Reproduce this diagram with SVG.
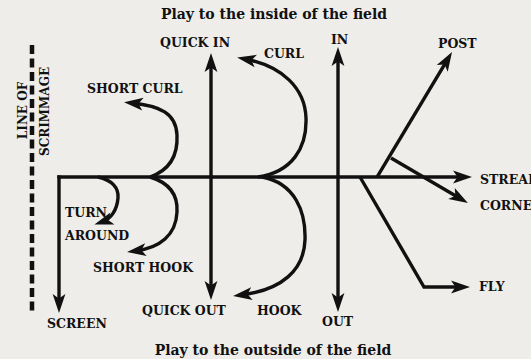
<svg xmlns="http://www.w3.org/2000/svg" width="531" height="359" viewBox="0 0 531 359">
  <style>
    .lbl { font-family: "DejaVu Serif", "Liberation Serif", serif; font-weight: bold; font-size: 12.5px; fill: #111; }
    .ttl { font-family: "DejaVu Serif", "Liberation Serif", serif; font-weight: bold; font-size: 14px; fill: #111; }
    .los { font-family: "DejaVu Serif", "Liberation Serif", serif; font-weight: bold; font-size: 12px; fill: #111; }
    .route { fill: none; stroke: #111; stroke-width: 3.4; marker-end: url(#ah); }
    .scrim { fill: none; stroke: #111; stroke-width: 4.5; stroke-dasharray: 9 4.5; }
  </style>
  <defs>
    <marker id="ah" markerUnits="userSpaceOnUse" markerWidth="24" markerHeight="18" refX="12" refY="8" orient="auto" overflow="visible">
      <path d="M20,8 L1,1.6 L5.5,8 L1,14.4 Z" fill="#111"/>
    </marker>
  </defs>
  <rect x="0" y="0" width="531" height="359" fill="#efede9"/>

  <g id="title-inside"><text class="ttl" x="274" y="19" text-anchor="middle">Play to the inside of the field</text></g>
  <g id="title-outside"><text class="ttl" x="273" y="355" text-anchor="middle">Play to the outside of the field</text></g>

  <g id="line-of-scrimmage">
    <line class="scrim" x1="32" y1="45" x2="32" y2="311"/>
    <text class="los" transform="translate(27,110.5) rotate(-90)" text-anchor="middle">LINE OF</text>
    <text class="los" transform="translate(49,111.5) rotate(-90)" text-anchor="middle">SCRIMMAGE</text>
  </g>

  <g id="connectors">
    <path id="streak" class="route" d="M57.3,177 L464,177"/>
    <path id="screen" class="route" d="M59,175.3 L59,305"/>
    <path id="quick-in" class="route" d="M211,177 L211,61"/>
    <path id="quick-out" class="route" d="M211,177 L211,292"/>
    <path id="in" class="route" d="M338,177 L338,55"/>
    <path id="out" class="route" d="M338,177 L338,304"/>
    <path id="post" class="route" d="M377,177 L447.9,58.9"/>
    <path id="corner" class="route" d="M391,158 L461,199"/>
    <path id="fly" class="route" d="M360,177 L424,287 L462,287"/>
    <path id="curl" class="route" d="M258,177 C292,172 307,148 306,118 C305,88 282,66 245,59"/>
    <path id="hook" class="route" d="M262,177 C295,183 306,212 305,240 C304,270 282,290 241,295"/>
    <path id="short-curl" class="route" d="M150,177 C170,170 178,155 177,135 C176,113 160,106 132,103"/>
    <path id="short-hook" class="route" d="M150,177 C170,183 178,195 177,212 C176,235 160,248 135,251"/>
    <path id="turn-around" class="route" d="M98,177 C112,180 119,188 118,198 C117,210 111,219 102,222"/>
  </g>

  <g id="lbl-quick-in"><text class="lbl" x="160" y="47">QUICK IN</text></g>
  <g id="lbl-curl"><text class="lbl" x="264" y="57.5">CURL</text></g>
  <g id="lbl-in"><text class="lbl" x="331" y="43.5">IN</text></g>
  <g id="lbl-post"><text class="lbl" x="438" y="48">POST</text></g>
  <g id="lbl-short-curl"><text class="lbl" x="87" y="93">SHORT CURL</text></g>
  <g id="lbl-streak"><text class="lbl" x="480" y="183.5">STREAK</text></g>
  <g id="lbl-corner"><text class="lbl" x="480" y="210">CORNER</text></g>
  <g id="lbl-fly"><text class="lbl" x="479" y="291">FLY</text></g>
  <g id="lbl-turn-around">
    <text class="lbl" x="65" y="216.5">TURN</text>
    <text class="lbl" x="65" y="239.5">AROUND</text>
  </g>
  <g id="lbl-short-hook"><text class="lbl" x="93" y="271.5">SHORT HOOK</text></g>
  <g id="lbl-quick-out"><text class="lbl" x="142" y="314.5">QUICK OUT</text></g>
  <g id="lbl-hook"><text class="lbl" x="257" y="314.5">HOOK</text></g>
  <g id="lbl-out"><text class="lbl" x="322" y="326">OUT</text></g>
  <g id="lbl-screen"><text class="lbl" x="47" y="327.5">SCREEN</text></g>
</svg>
